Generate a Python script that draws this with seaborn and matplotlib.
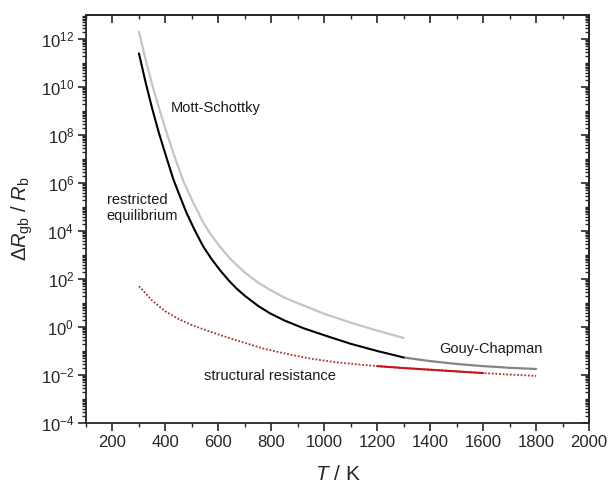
import numpy as np
import pandas as pd
import matplotlib
matplotlib.use("Agg")
import matplotlib.pyplot as plt
import matplotlib.ticker as mticker
import seaborn as sns

# ---- data (log10 of ΔR_gb/R_b) ----
T_rest = [300, 325, 350, 375, 400, 430, 460, 480, 510, 543, 575, 606, 640, 669,
          700, 750, 795, 850, 921, 1021, 1100, 1200, 1300]
lg_rest = [11.4, 10.2, 9.1, 8.1, 7.2, 6.15, 5.3, 4.75, 4.05, 3.35, 2.82, 2.37, 1.93, 1.6,
           1.3, 0.88, 0.57, 0.27, -0.05, -0.42, -0.7, -1.0, -1.27]

T_gc = [1300, 1400, 1500, 1600, 1700, 1800]
lg_gc = [-1.27, -1.42, -1.54, -1.63, -1.70, -1.75]

T_ms = [300, 325, 350, 375, 400, 430, 467, 500, 543, 575, 606, 640, 669, 700,
        750, 795, 850, 921, 1000, 1100, 1200, 1300]
lg_ms = [12.3, 11.15, 10.1, 9.15, 8.25, 7.25, 6.1, 5.3, 4.35, 3.8, 3.35, 2.9, 2.58, 2.27,
         1.85, 1.55, 1.22, 0.9, 0.55, 0.18, -0.15, -0.46]

T_str = [300, 350, 400, 450, 500, 550, 600, 650, 700, 770, 850, 950, 1050, 1200,
         1300, 1400, 1500, 1600, 1700, 1800]
lg_str = [1.7, 1.1, 0.65, 0.33, 0.08, -0.12, -0.31, -0.49, -0.66, -0.9, -1.1, -1.32,
          -1.48, -1.63, -1.71, -1.78, -1.85, -1.92, -1.98, -2.04]

T_str_solid = [1200, 1300, 1400, 1500, 1600]
lg_str_solid = [-1.63, -1.71, -1.78, -1.85, -1.92]

x_ticks = [200, 400, 600, 800, 1000, 1200, 1400, 1600, 1800, 2000]
y_exps = [-4, -2, 0, 2, 4, 6, 8, 10, 12]

labels = {
    "Mott-Schottky": (590, 10 ** 9.12, "center"),
    "restricted\nequilibrium": (178, 10 ** 4.96, "left"),
    "structural resistance": (795, 10 ** -2.05, "center"),
    "Gouy-Chapman": (1629, 10 ** -0.92, "center"),
}

# ---- style ----
sns.set_style("ticks")
plt.rcParams["font.family"] = ["Liberation Sans", "DejaVu Sans"]
plt.rcParams["mathtext.fontset"] = "custom"
plt.rcParams["mathtext.rm"] = "Liberation Sans"
plt.rcParams["mathtext.it"] = "Liberation Sans:italic"
plt.rcParams["mathtext.bf"] = "Liberation Sans:bold"
plt.rcParams["axes.linewidth"] = 1.3

fig = plt.figure(figsize=(6.12, 4.84), dpi=100)
ax = fig.add_axes([86 / 612, 61 / 484, (589 - 86) / 612, (423 - 15) / 484])


def df(T, lg):
    return pd.DataFrame({"T": T, "R": np.power(10.0, lg)})


sns.lineplot(data=df(T_ms, lg_ms), x="T", y="R", ax=ax, color="#c4c4c4", lw=1.6)
sns.lineplot(data=df(T_gc, lg_gc), x="T", y="R", ax=ax, color="#858585", lw=1.6)
sns.lineplot(data=df(T_rest, lg_rest), x="T", y="R", ax=ax, color="black", lw=1.5)
sns.lineplot(data=df(T_str, lg_str), x="T", y="R", ax=ax, color="#a83232", lw=1.3,
             linestyle=(0, (1, 1)))
sns.lineplot(data=df(T_str_solid, lg_str_solid), x="T", y="R", ax=ax, color="#c8141c", lw=1.5)

ax.set_yscale("log")
ax.set_xlim(100, 2000)
ax.set_ylim(1e-4, 1e13)

ax.xaxis.set_major_locator(mticker.FixedLocator(x_ticks))
ax.xaxis.set_minor_locator(mticker.MultipleLocator(100))
ax.yaxis.set_major_locator(mticker.FixedLocator([10.0 ** e for e in y_exps]))
minor_y = [m * 10.0 ** e for e in range(-4, 13) for m in range(1, 10)
           if not (m == 1 and e in y_exps)]
ax.yaxis.set_minor_locator(mticker.FixedLocator(minor_y))
ax.yaxis.set_major_formatter(mticker.FuncFormatter(
    lambda v, p: r"$\mathregular{10^{%d}}$" % int(round(np.log10(v)))))
ax.yaxis.set_minor_formatter(mticker.NullFormatter())

ax.tick_params(axis="both", which="major", direction="out", length=5.5, width=1.2,
               labelsize=12, pad=3)
ax.tick_params(axis="both", which="minor", direction="out", length=3, width=1.0)

for s in ["top", "right", "left", "bottom"]:
    ax.spines[s].set_visible(True)
    ax.spines[s].set_linewidth(1.3)

# mirrored inward ticks on top and right
secx = ax.secondary_xaxis("top")
secx.xaxis.set_major_locator(mticker.FixedLocator(x_ticks))
secx.xaxis.set_minor_locator(mticker.MultipleLocator(100))
secx.tick_params(which="major", direction="in", length=5.5, width=1.2, labeltop=False)
secx.tick_params(which="minor", direction="in", length=3, width=1.0)
secx.spines["top"].set_linewidth(1.3)

secy = ax.secondary_yaxis("right")
secy.yaxis.set_major_locator(mticker.FixedLocator([10.0 ** e for e in y_exps]))
secy.yaxis.set_minor_locator(mticker.FixedLocator(minor_y))
secy.yaxis.set_minor_formatter(mticker.NullFormatter())
secy.tick_params(which="major", direction="in", length=5.5, width=1.2, labelright=False)
secy.tick_params(which="minor", direction="in", length=3, width=1.0)
secy.spines["right"].set_linewidth(1.3)

ax.set_xlabel(r"$T$ / K", fontsize=15, labelpad=11)
ax.set_ylabel(r"$\Delta R_{\mathrm{gb}}$ / $R_{\mathrm{b}}$", fontsize=14.5, labelpad=4)

for txt, (x, y, ha) in labels.items():
    ax.text(x, y, txt, ha=ha, va="center", fontsize=10.5, color="#1a1a1a",
            linespacing=1.1)

fig.savefig("out.png", dpi=100)
